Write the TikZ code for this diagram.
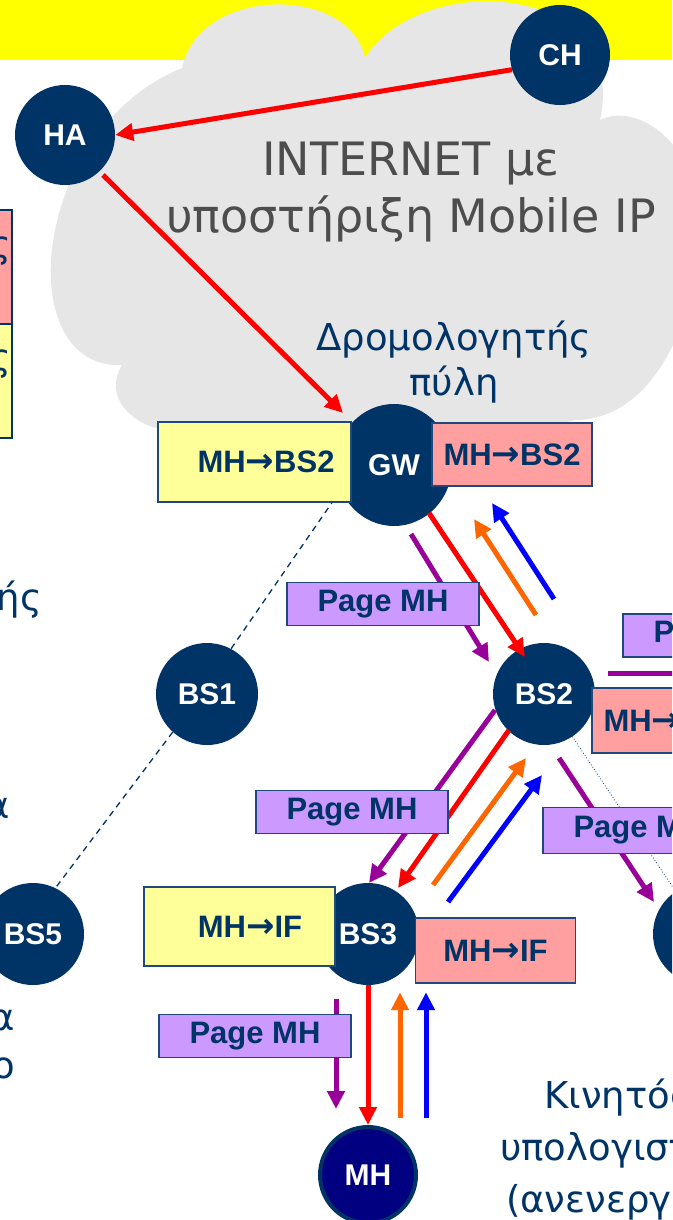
\documentclass[tikz,border=0pt]{standalone}
\usepackage{fontspec}
\setmainfont{Liberation Sans}
\newfontfamily\handfont{DejaVu Sans}
\usetikzlibrary{arrows.meta,shapes.geometric,backgrounds}
\definecolor{navy}{HTML}{003366}
\definecolor{mhblue}{HTML}{000080}
\definecolor{band}{HTML}{FFFF00}
\definecolor{cloudgray}{HTML}{E6E6E6}
\definecolor{cacheyellow}{HTML}{FFFF99}
\definecolor{cachepink}{HTML}{FF9F9F}
\definecolor{pagepurple}{HTML}{CC99FF}
\definecolor{boxline}{HTML}{1F497D}
\definecolor{msgred}{HTML}{FF0000}
\definecolor{msgorange}{HTML}{FF6600}
\definecolor{msgblue}{HTML}{0000FF}
\definecolor{msgpurple}{HTML}{990099}
\definecolor{inettext}{HTML}{4D4D4D}
\newcommand{\toarr}{{\handfont\bfseries\fontsize{34}{34}\selectfont →}}

\begin{document}
\begin{tikzpicture}[x=1pt,y=-1pt,
  font=\bfseries\fontsize{30}{34}\selectfont,
  stn/.style={ellipse,fill=navy,text=white,minimum width=102pt,minimum height=102pt,inner sep=0pt},
  cache/.style={draw=boxline,line width=1.5pt,text=navy,minimum height=64pt,inner sep=0pt,font=\bfseries\fontsize{31}{34}\selectfont},
  yc/.style={cache,fill=cacheyellow},
  pc/.style={cache,fill=cachepink,minimum width=160pt},
  page/.style={cache,fill=pagepurple,minimum width=192pt,minimum height=43pt},
  msg/.style={line width=5pt,-{Triangle[length=18pt,width=17pt]}},
  link/.style={navy,line width=1.3pt,dash pattern=on 6pt off 5pt},
  greek/.style={font=\handfont\fontsize{37}{45}\selectfont,text=navy,inner sep=0pt}]
\useasboundingbox (0,0) rectangle (672,1220);
\clip (0,0) rectangle (672,1220);

% sky and cloud
\begin{scope}[on background layer]
  \fill[band] (0,0) rectangle (672,60);
  \fill[cloudgray] (365,58) .. controls (350,-15) and (200,-15) .. (182,68)
    .. controls (30,130) and (10,370) .. (122,365)
    .. controls (100,400) and (140,440) .. (200,430)
    .. controls (300,445) and (480,445) .. (575,420)
    .. controls (650,420) and (690,330) .. (700,250)
    .. controls (710,150) and (640,100) .. (600,120)
    .. controls (630,-20) and (420,-30) .. (365,58) -- cycle;
\end{scope}

\node[font=\handfont\fontsize{46}{57}\selectfont,text=inettext,align=center,anchor=base,inner sep=0pt] (inet) at (411,232) {INTERNET με\\υποστήριξη Mobile IP};
\node[greek,align=center,anchor=base] (gwname) at (454,395) {Δρομολογητής\\πύλη};
\node[greek,font=\handfont\fontsize{37}{52}\selectfont,align=center,anchor=base west] (mhname) at (500,1212) {Κινητός\\υπολογιστής\\(ανενεργός)};

% left column (cut off)
\node[draw=navy,line width=2pt,fill=cachepink,minimum width=100pt,minimum height=114pt,anchor=north east] (lpink) at (13,209) {};
\node[draw=navy,line width=2pt,fill=cacheyellow,minimum width=100pt,minimum height=114pt,anchor=north east] (lyellow) at (13,323) {};
\node[greek,anchor=base east] (frag1) at (11,257) {ς};
\node[greek,anchor=base east] (frag2) at (11,370) {ς};
\node[greek,anchor=base east] (frag3) at (42,610) {ής};
\node[greek,anchor=base east] (frag4) at (10,818) {α};
\node[greek,anchor=base east] (frag5) at (15,1030) {α};
\node[greek,anchor=base east] (frag6) at (15,1078) {ο};

% stations
\node[stn,minimum size=100pt] (CH) at (560,55) {CH};
\node[stn,minimum size=100pt] (HA) at (65,135) {HA};
\node[stn,minimum width=116pt,minimum height=122pt] (GW) at (394,465) {GW};
\node[stn] (BS1) at (207,694) {BS1};
\node[stn] (BS2) at (544,694) {BS2};
\node[stn] (BS3) at (368,934) {BS3};
\node[stn] (BS4) at (704,934) {};
\node[stn] (BS5) at (33,934) {BS5};
\node[stn,fill=mhblue,draw=navy,line width=4pt,minimum size=96pt] (MH) at (368,1175) {MH};
\coordinate (BS6dir) at (760,673);

\begin{scope}[on background layer]
  \draw[link] (GW.205) -- (BS1.62);
  \draw[link] (BS1.228) -- (BS5.64);
  \draw[navy,line width=0.8pt,dotted] (BS2) -- (BS4);
\end{scope}

% messages
\draw[msg,msgred] (CH.197) -- (HA.east);
\draw[msg,msgred] ([xshift=38pt,yshift=-40pt]HA.center) -- ([xshift=-51pt,yshift=52pt]GW.center);
\draw[msg,msgpurple] ([xshift=17pt,yshift=-69pt]GW.center) -- ([xshift=-55pt,yshift=32pt]BS2.center);
\draw[msg,msgred] ([xshift=35pt,yshift=-48pt]GW.center) -- ([xshift=-19pt,yshift=37pt]BS2.center);
\draw[msg,msgorange] ([xshift=-8pt,yshift=79pt]BS2.center) -- ([xshift=80pt,yshift=-54pt]GW.center);
\draw[msg,msgblue] ([xshift=10pt,yshift=95pt]BS2.center) -- ([xshift=98pt,yshift=-38pt]GW.center);
\draw[msg,msgpurple] ([xshift=64pt,yshift=21pt]BS2.center) -- (BS6dir);

\draw[msg,msgpurple] ([xshift=-49pt,yshift=-16pt]BS2.center) -- ([xshift=1pt,yshift=51pt]BS3.center);
\draw[msg,msgred] ([xshift=-35pt,yshift=-36pt]BS2.center) -- ([xshift=30pt,yshift=46pt]BS3.center);
\draw[msg,msgorange] ([xshift=65pt,yshift=49pt]BS3.center) -- ([xshift=-18pt,yshift=-64pt]BS2.center);
\draw[msg,msgblue] ([xshift=80pt,yshift=32pt]BS3.center) -- ([xshift=-2pt,yshift=-81pt]BS2.center);
\draw[msg,msgpurple] ([xshift=15pt,yshift=-64pt]BS2.center) -- ([xshift=-50pt,yshift=32pt]BS4.center);

\draw[msg,msgpurple,shorten <=14pt,shorten >=16pt] ([xshift=-32pt]BS3.south) -- ([xshift=-32pt]MH.north);
\draw[msg,msgred] (BS3.south) -- (MH.north);
\draw[msg,msgorange,shorten <=7pt,shorten >=7pt] ([xshift=32pt]MH.north) -- ([xshift=32pt]BS3.south);
\draw[msg,msgblue,shorten <=7pt,shorten >=7pt] ([xshift=58pt]MH.north) -- ([xshift=58pt]BS3.south);

% caches and paging
\node[yc,minimum width=193pt,minimum height=80pt] (gwroute) at (254.5,462) {\hspace*{23pt}MH\toarr BS2};
\node[pc,minimum height=63pt] (gwpage) at (512,454.5) {MH\toarr BS2};
\node[page] (page1) at (383,604) {Page MH};
\node[page] (page6) at (719,635.5) {Page MH};
\node[pc,minimum height=65pt] (bs2page) at (672,720.5) {MH\toarr BS3};
\node[page] (page2) at (352,812) {Page MH};
\node[page,minimum height=46pt] (page3) at (639,830.5) {Page MH};
\node[yc,minimum width=191pt,minimum height=79pt] (bs3route) at (239.5,926.5) {\hspace*{21pt}MH\toarr IF};
\node[pc,minimum height=65pt] (bs3page) at (495.5,950.5) {MH\toarr IF};
\node[page] (page4) at (255,1036) {Page MH};
\end{tikzpicture}
\end{document}
